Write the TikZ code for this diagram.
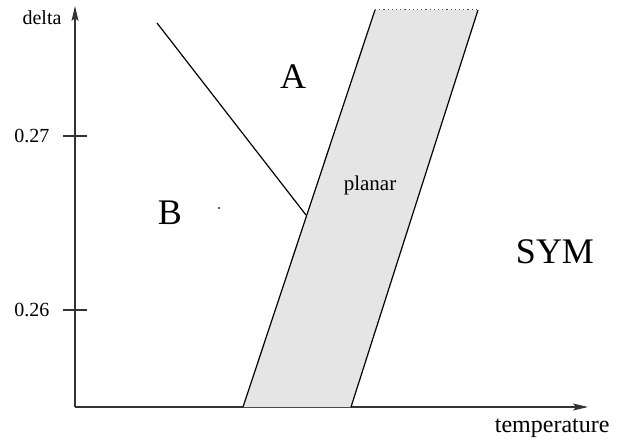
\documentclass[tikz,border=0pt]{standalone}
\usepackage{fontspec}
\setmainfont{Liberation Serif}
\usetikzlibrary{arrows.meta}
\begin{document}
\begin{tikzpicture}[x=1pt,y=-1pt,
  axis/.style={draw=black!80,line width=1.3pt,-{Stealth[length=15pt,width=7pt,inset=3pt]}},
  tick/.style={draw=black!80,line width=1.3pt},
  edge/.style={draw=black,line width=1.2pt},
  dots/.style={draw=black!70,line width=1pt,dash pattern=on 1.2pt off 3pt},
  big/.style={font=\fontsize{36}{42}\selectfont},
  small/.style={font=\fontsize{20}{23}\selectfont},
  lab/.style={font=\fontsize{21}{24}\selectfont},
  tlab/.style={font=\fontsize{24}{28}\selectfont}]
\useasboundingbox (0,0) rectangle (624,441);
% axes
\coordinate (O) at (75,407);
\coordinate (ytop) at (75,6);
\coordinate (xend) at (588,407);
\draw[axis] (O) -- (ytop);
\draw[axis] (O) -- (xend);
% ticks
\coordinate (t1a) at (63,136); \coordinate (t1b) at (87,136);
\coordinate (t2a) at (63,310); \coordinate (t2b) at (87,310);
\draw[tick] (t1a) -- (t1b);
\draw[tick] (t2a) -- (t2b);
\node[small,anchor=east] (l27) at (53,136) {0.27};
\node[small,anchor=east] (l26) at (53,310) {0.26};
\node[small] (delta) at (42,18) {delta};
\node[tlab,anchor=east] (temp) at (613,428) {temperature};
% band
\coordinate (bl) at (243,407);
\coordinate (br) at (351,407);
\coordinate (tr) at (478,10);
\coordinate (tl) at (375,10);
\fill[black!10] (bl) -- (br) -- (tr) -- (tl) -- cycle;
\draw[edge] (bl) -- (tl);
\draw[edge] (br) -- (tr);
\draw[dots] (tl) -- (tr);
\draw[dots] (bl) -- (br);
% A-B boundary
\coordinate (s) at (157,23);
\coordinate (e) at (306,215);
\draw[edge] (s) -- (e);
% labels
\node[big] (A) at (293,77) {A};
\node[big] (B) at (170,213) {B};
\node[big] (SYM) at (555,252) {SYM};
\node[lab] (planar) at (370,185) {planar};
\fill[black!60] (218,207) rectangle (220,209);
\end{tikzpicture}
\end{document}
